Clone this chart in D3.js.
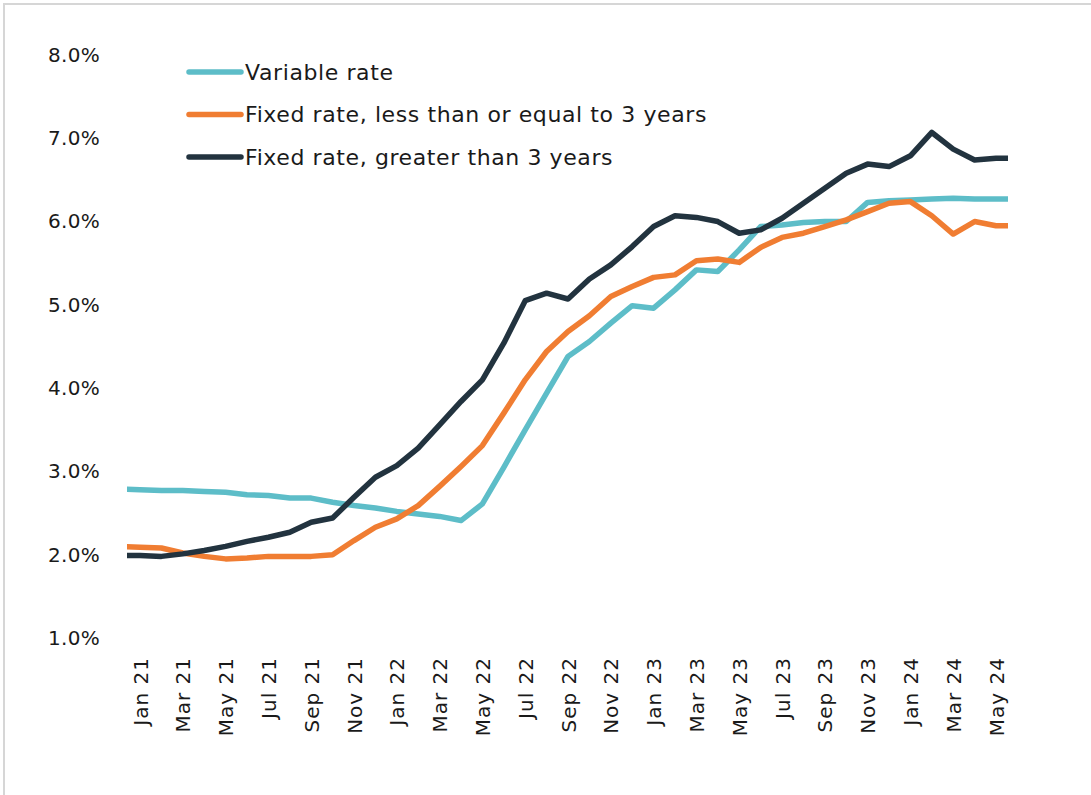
<!DOCTYPE html>
<html>
<head>
<meta charset="utf-8">
<script src="https://cdn.jsdelivr.net/npm/d3@7/dist/d3.min.js"></script>
<style>
  html, body { margin: 0; padding: 0; background: #ffffff; }
  svg { display: block; }
</style>
</head>
<body>
<svg id="chart" width="1091" height="795"></svg>
<script>
// Monthly observations, Dec 2020 through Jun 2024
const months = [
  "Dec 20",
  "Jan 21","Feb 21","Mar 21","Apr 21","May 21","Jun 21","Jul 21","Aug 21","Sep 21","Oct 21","Nov 21","Dec 21",
  "Jan 22","Feb 22","Mar 22","Apr 22","May 22","Jun 22","Jul 22","Aug 22","Sep 22","Oct 22","Nov 22","Dec 22",
  "Jan 23","Feb 23","Mar 23","Apr 23","May 23","Jun 23","Jul 23","Aug 23","Sep 23","Oct 23","Nov 23","Dec 23",
  "Jan 24","Feb 24","Mar 24","Apr 24","May 24","Jun 24"
];

const variableRate = [
  2.79,
  2.78, 2.77, 2.77, 2.76, 2.75, 2.72, 2.71, 2.68, 2.68, 2.63, 2.59, 2.56,
  2.52, 2.49, 2.46, 2.41, 2.61, 3.05, 3.50, 3.94, 4.38, 4.56, 4.78, 4.99,
  4.96, 5.18, 5.42, 5.40, 5.66, 5.94, 5.96, 5.99, 6.00, 6.00, 6.23, 6.25,
  6.26, 6.27, 6.28, 6.27, 6.27, 6.27
];

const fixedUpTo3 = [
  2.10,
  2.09, 2.08, 2.02, 1.98, 1.95, 1.96, 1.98, 1.98, 1.98, 2.00, 2.17, 2.33,
  2.43, 2.59, 2.82, 3.06, 3.31, 3.70, 4.10, 4.44, 4.68, 4.87, 5.10, 5.22,
  5.33, 5.36, 5.53, 5.55, 5.51, 5.69, 5.81, 5.86, 5.94, 6.02, 6.12, 6.22,
  6.24, 6.07, 5.85, 6.00, 5.95, 5.95
];

const fixedOver3 = [
  1.99,
  1.99, 1.98, 2.01, 2.05, 2.10, 2.16, 2.21, 2.27, 2.39, 2.44, 2.69, 2.93,
  3.07, 3.28, 3.56, 3.84, 4.10, 4.54, 5.05, 5.14, 5.07, 5.31, 5.48, 5.70,
  5.94, 6.07, 6.05, 6.00, 5.86, 5.90, 6.04, 6.22, 6.40, 6.58, 6.69, 6.66,
  6.79, 7.07, 6.87, 6.74, 6.76, 6.76
];

const tickMonths = [
  "Jan 21","Mar 21","May 21","Jul 21","Sep 21","Nov 21",
  "Jan 22","Mar 22","May 22","Jul 22","Sep 22","Nov 22",
  "Jan 23","Mar 23","May 23","Jul 23","Sep 23","Nov 23",
  "Jan 24","Mar 24","May 24"
];
const yTicks = [1, 2, 3, 4, 5, 6, 7, 8];

const seriesNames = [
  "Variable rate",
  "Fixed rate, less than or equal to 3 years",
  "Fixed rate, greater than 3 years"
];
const seriesColors = ["#5dbdc8", "#f07d32", "#22333f"];

const series = [variableRate, fixedUpTo3, fixedOver3].map((vals, i) => ({
  name: seriesNames[i],
  color: seriesColors[i],
  values: vals.map((v, j) => ({ month: months[j], value: v }))
}));

const svg = d3.select("#chart");
const FONT = "'DejaVu Sans', sans-serif";

// Outer frame (top and left edges visible)
svg.append("path")
  .attr("d", "M4,795 L4,4 L1091,4")
  .attr("fill", "none")
  .attr("stroke", "#d6d6d6")
  .attr("stroke-width", 2);

// Plot area
const plot = { left: 127, right: 1008, top: 55, bottom: 638 };

const x = d3.scalePoint()
  .domain(months)
  .range([118.6, 1017.4]);

const y = d3.scaleLinear()
  .domain([1, 8])
  .range([plot.bottom, plot.top]);

svg.append("clipPath").attr("id", "plot-clip")
  .append("rect")
  .attr("x", plot.left)
  .attr("y", 0)
  .attr("width", plot.right - plot.left)
  .attr("height", 795);

// Y axis labels
const yAxis = svg.append("g")
  .attr("transform", `translate(${plot.left - 27},0)`)
  .call(d3.axisLeft(y).tickValues(yTicks).tickSize(0).tickPadding(0)
    .tickFormat(d => d3.format(".1f")(d) + "%"));
yAxis.select(".domain").remove();
yAxis.selectAll("text")
  .attr("font-family", FONT)
  .attr("font-size", 20)
  .attr("letter-spacing", 0.3)
  .attr("fill", "#1a1a1a");

// X axis labels, rotated
const xAxis = svg.append("g")
  .attr("transform", `translate(0,${plot.bottom})`)
  .call(d3.axisBottom(x).tickValues(tickMonths).tickSize(0).tickPadding(0));
xAxis.select(".domain").remove();
xAxis.selectAll("text")
  .attr("font-family", FONT)
  .attr("font-size", 20)
  .attr("letter-spacing", 1)
  .attr("fill", "#1a1a1a")
  .attr("text-anchor", "end")
  .attr("transform", "rotate(-90)")
  .attr("x", -19)
  .attr("y", 0)
  .attr("dy", "0.35em");

// Series lines
const line = d3.line()
  .x(d => x(d.month))
  .y(d => y(d.value));

svg.append("g")
  .attr("clip-path", "url(#plot-clip)")
  .selectAll("path")
  .data(series)
  .join("path")
  .attr("d", d => line(d.values))
  .attr("fill", "none")
  .attr("stroke", d => d.color)
  .attr("stroke-width", 5.5)
  .attr("stroke-linejoin", "round");

// Legend
const legend = svg.append("g")
  .selectAll("g")
  .data(series)
  .join("g")
  .attr("transform", (d, i) => `translate(189,${72 + i * 42.5})`);

legend.append("line")
  .attr("x1", 0).attr("x2", 52)
  .attr("y1", 0).attr("y2", 0)
  .attr("stroke", d => d.color)
  .attr("stroke-width", 5.5)
  .attr("stroke-linecap", "round");

legend.append("text")
  .attr("x", 56)
  .attr("y", 0)
  .attr("dy", "0.35em")
  .attr("font-family", FONT)
  .attr("font-size", 22)
  .attr("letter-spacing", 0.6)
  .attr("fill", "#1a1a1a")
  .text(d => d.name);
</script>
</body>
</html>
